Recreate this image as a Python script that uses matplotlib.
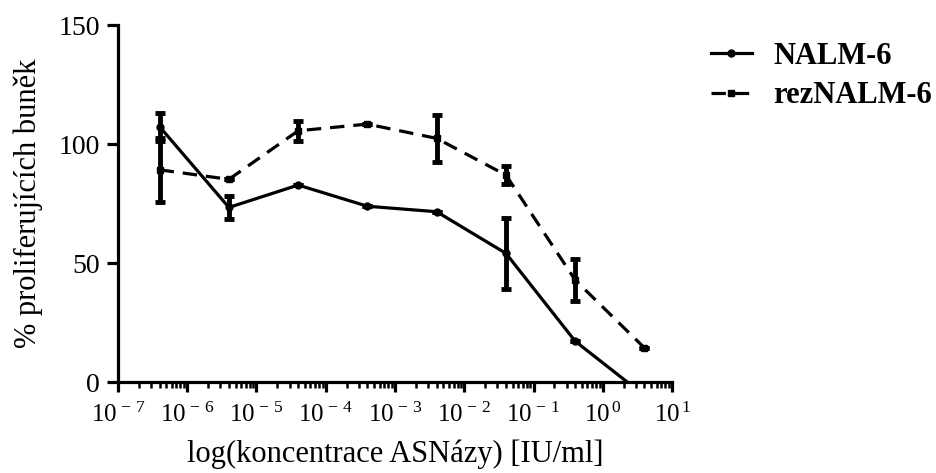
import matplotlib
matplotlib.use("Agg")
import matplotlib.pyplot as plt
import numpy as np
from matplotlib.ticker import LogLocator, NullFormatter, FuncFormatter

plt.rcParams["font.family"] = ["Liberation Serif", "DejaVu Serif"]
plt.rcParams["mathtext.fontset"] = "custom"
plt.rcParams["mathtext.rm"] = "Liberation Serif"
plt.rcParams["mathtext.it"] = "Liberation Serif:italic"
plt.rcParams["mathtext.bf"] = "Liberation Serif:bold"

# koncentrace ASNazy [IU/ml]
conc = [4e-7, 4e-6, 4e-5, 4e-4, 4e-3, 4e-2, 4e-1, 4]

nalm6 = [107.3, 73.4, 82.8, 73.9, 71.6, 54.1, 17.2, -5.6]
nalm6_err = [5.8, 5.0, 0, 0, 0, 15.0, 0, 0]

reznalm6 = [89.2, 85.2, 105.6, 108.4, 102.4, 87.0, 42.9, 14.4]
reznalm6_err = [13.5, 0, 4.2, 0, 10.0, 3.8, 8.8, 0]

fig = plt.figure(figsize=(9.36, 4.73), dpi=100)
ax = fig.add_axes([0.126, 0.192, 0.592, 0.755])

dash = (0, (4.5, 2.8))
ax.plot(conc, nalm6, color="black", lw=2.3, ls="-", marker="o", ms=5,
        label="NALM-6")
ax.plot(conc, reznalm6, color="black", lw=2.3, ls=dash, marker="s", ms=5,
        label="rezNALM-6")
ax.errorbar(conc, nalm6, yerr=nalm6_err, fmt="none", ecolor="black",
            elinewidth=3.5, capsize=3.5, capthick=3.5)
ax.errorbar(conc, reznalm6, yerr=reznalm6_err, fmt="none", ecolor="black",
            elinewidth=3.5, capsize=3.5, capthick=3.5)

ax.set_xscale("log")
ax.set_xlim(1e-7, 1e1)
ax.set_ylim(0, 150)
ax.set_yticks([0, 50, 100, 150])
ax.xaxis.set_major_locator(LogLocator(base=10, numticks=20))
ax.xaxis.set_minor_locator(LogLocator(base=10, subs=np.arange(2, 10), numticks=20))
ax.xaxis.set_minor_formatter(NullFormatter())


def pow10(v, pos):
    e = int(round(np.log10(v)))
    if e < 0:
        return r"$\mathregular{10^{\,-\,%d}}$" % (-e)
    return r"$\mathregular{10^{\,%d}}$" % e


ax.xaxis.set_major_formatter(FuncFormatter(pow10))

for s in ["top", "right"]:
    ax.spines[s].set_visible(False)
for s in ["left", "bottom"]:
    ax.spines[s].set_linewidth(2.3)
ax.tick_params(axis="y", which="major", direction="out", length=8, width=2.3,
               labelsize=20, pad=5)
ax.tick_params(axis="x", which="major", direction="out", length=7, width=2.3,
               labelsize=18, pad=8)
ax.tick_params(axis="x", which="minor", direction="out", length=4, width=1.8)

ax.set_xlabel("log(koncentrace ASNázy) [IU/ml]", fontsize=22, labelpad=9)
ax.set_ylabel("% proliferujících buněk", fontsize=22, labelpad=11)

fig.legend(loc="upper left", bbox_to_anchor=(0.73, 0.97), frameon=False,
           prop={"weight": "bold", "size": 22}, handlelength=1.35,
           handletextpad=0.7, labelspacing=0.35)

fig.savefig("out.png", dpi=100)
